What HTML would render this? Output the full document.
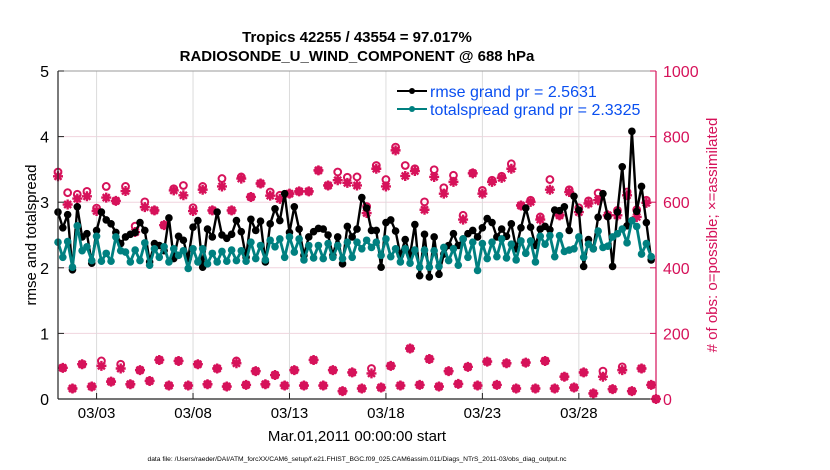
<!DOCTYPE html>
<html><head><meta charset="utf-8"><style>
body{margin:0;background:#fff;}
svg{display:block;font-family:"Liberation Sans",sans-serif;}
</style></head><body>
<svg id="chart" width="830" height="470" viewBox="0 0 830 470">
<text x="357" y="42" text-anchor="middle" font-size="15" font-weight="bold">Tropics 42255 / 43554 = 97.017%</text>
<text x="357" y="61" text-anchor="middle" font-size="15" font-weight="bold">RADIOSONDE_U_WIND_COMPONENT @ 688 hPa</text>
<g id="grid"></g>
<g id="obs"></g>
<g id="lines"></g>
<g id="axes"></g>
<g>
<line x1="397" y1="91" x2="427" y2="91" stroke="#000" stroke-width="2"/><circle cx="412" cy="91" r="3" fill="#000"/>
<text x="430" y="97" font-size="16" fill="#0a4ff0">rmse grand pr = 2.5631</text>
<line x1="397" y1="109" x2="427" y2="109" stroke="#008080" stroke-width="2"/><circle cx="412" cy="109" r="3" fill="#008080"/>
<text x="430" y="115" font-size="16" fill="#0a4ff0">totalspread grand pr = 2.3325</text>
</g>
<text transform="translate(36,235) rotate(-90)" text-anchor="middle" font-size="15">rmse and totalspread</text>
<text transform="translate(717,235) rotate(-90)" text-anchor="middle" font-size="15" fill="#d6125a"># of obs: o=possible; ×=assimilated</text>
<text x="357" y="441" text-anchor="middle" font-size="15">Mar.01,2011 00:00:00 start</text>
<text x="357" y="461" text-anchor="middle" font-size="6.7">data file: /Users/raeder/DAI/ATM_forcXX/CAM6_setup/f.e21.FHIST_BGC.f09_025.CAM6assim.011/Diags_NTrS_2011-03/obs_diag_output.nc</text>
</svg>
<script>
const rmse=[2.85,2.61,2.81,1.97,2.93,2.47,2.52,2.07,2.57,2.85,2.73,2.67,2.54,2.37,2.47,2.51,2.54,2.69,2.57,2.09,2.37,2.34,2.26,2.76,2.14,2.48,2.42,2.14,2.62,2.72,2.01,2.59,
2.47,2.85,2.50,2.45,2.51,2.72,2.55,2.16,2.74,2.57,2.71,2.09,2.67,2.90,2.72,3.13,2.54,2.93,2.59,2.19,2.47,2.55,2.60,2.59,2.50,2.19,2.47,2.06,2.63,2.47,
2.59,3.07,2.91,2.57,2.57,2.01,2.69,2.73,2.56,2.19,2.43,2.19,2.66,1.88,2.51,1.86,2.47,1.9,2.21,2.34,2.52,2.34,2.44,2.52,2.57,2.47,2.61,2.75,2.69,2.47,2.59,2.48,
2.67,2.29,2.61,2.91,2.62,2.34,2.59,2.63,2.58,2.88,2.87,2.93,2.57,3.09,2.88,2.02,2.43,2.29,2.77,3.13,2.78,2.02,2.85,3.54,2.64,4.08,2.86,3.24,2.69,2.12];
const spread=[2.39,2.16,2.40,2.01,2.64,2.26,2.32,2.11,2.48,2.10,2.22,2.10,2.47,2.26,2.24,2.09,2.27,2.11,2.38,2.04,2.29,2.16,2.32,2.09,2.29,2.19,2.26,1.99,2.29,2.09,2.29,2.06,
2.22,2.09,2.25,2.10,2.27,2.11,2.26,2.10,2.39,2.14,2.34,2.12,2.42,2.32,2.44,2.16,2.47,2.24,2.44,2.12,2.34,2.15,2.34,2.14,2.37,2.16,2.34,2.14,2.39,2.16,
2.39,2.29,2.42,2.31,2.39,2.19,2.44,2.17,2.29,2.09,2.29,2.07,2.27,2.01,2.27,2.01,2.26,2.02,2.31,2.11,2.29,2.04,2.44,2.16,2.39,1.96,2.37,2.14,2.39,2.17,2.44,2.15,
2.36,2.12,2.41,2.22,2.41,2.09,2.48,2.36,2.49,2.17,2.49,2.25,2.27,2.29,2.47,2.16,2.36,2.29,2.56,2.31,2.33,2.47,2.52,2.59,2.38,2.72,2.63,2.21,2.37,2.17];
const possible=[692,95,629,32,624,106,633,38,582,116,648,53,604,106,648,45,527,88,601,55,575,119,530,41,641,116,651,41,583,106,648,45,
575,93,672,38,575,116,677,43,616,85,657,45,631,73,621,41,626,88,633,41,633,119,697,41,651,88,692,24,676,81,
677,32,587,93,712,35,669,101,768,41,712,154,702,43,601,122,699,38,644,85,682,46,560,98,689,41,636,114,667,43,679,109,
717,32,590,111,606,32,555,116,669,32,560,68,638,35,583,81,604,17,628,85,560,30,575,98,631,24,577,93,606,43,0];
const assimilated=[679,95,593,32,611,106,618,38,573,101,614,53,604,93,634,45,509,88,585,55,575,119,530,41,636,116,621,41,573,106,638,45,
575,93,648,38,575,109,672,43,616,85,657,45,620,73,610,41,626,88,633,41,633,119,697,41,651,88,667,24,659,81,
651,32,567,78,702,35,648,101,758,41,680,154,695,43,577,122,677,38,626,85,662,46,547,98,688,41,626,114,662,43,674,109,
702,32,590,111,601,32,547,116,638,32,560,68,631,35,570,81,596,17,606,68,560,30,560,88,621,24,555,93,598,43,0];
const leftTicks=[0,1,2,3,4,5];
const rightTicks=[0,200,400,600,800,1000];
const dayTicks=[3,8,13,18,23,28];
const dayLabels=["03/03","03/08","03/13","03/18","03/23","03/28"];

const X0=58,X1=656,Y0=399,Y1=71,NDAYS=31,PTS_PER_DAY=4;
const xDay=d=>X0+(d-1)*(X1-X0)/NDAYS;
const xIdx=i=>X0+(i/PTS_PER_DAY)*(X1-X0)/NDAYS;
const yL=v=>Y0-v*(Y0-Y1)/5;
const yR=v=>Y0-v*(Y0-Y1)/1000;
const NS="http://www.w3.org/2000/svg";
function mk(tag,attrs,parent){const e=document.createElementNS(NS,tag);for(const k in attrs)e.setAttribute(k,attrs[k]);parent.appendChild(e);return e;}
const grid=document.getElementById('grid'),axes=document.getElementById('axes'),obs=document.getElementById('obs'),lines=document.getElementById('lines');
const PINK="#d6125a";
rightTicks.forEach(t=>{if(t===0||t===1000)return;
 const l=mk('line',{x1:X0,x2:X1,y1:yR(t),y2:yR(t),stroke:'#f0d4de','stroke-width':1},grid);
 
 });
dayTicks.forEach((d,k)=>{
 const l=mk('line',{x1:xDay(d),x2:xDay(d),y1:Y1,y2:Y0,stroke:'#dcdcdc','stroke-width':1},grid);
 
 
 const t=mk('line',{x1:xDay(d),x2:xDay(d),y1:Y0,y2:Y0-6,stroke:'#222','stroke-width':1},axes);
 
 
 const tx=mk('text',{x:xDay(d),y:418,'text-anchor':'middle','font-size':15},axes);
 tx.textContent=dayLabels[k];
 
 });
const fr=mk('path',{d:`M${X0},${Y1}H${X1}`,stroke:'#999','stroke-width':1,fill:'none'},axes);


const la=mk('line',{x1:X0,x2:X0,y1:Y1,y2:Y0,stroke:'#222','stroke-width':1.2},axes);


const ba=mk('line',{x1:X0,x2:X1,y1:Y0,y2:Y0,stroke:'#222','stroke-width':1.2},axes);


const ra=mk('line',{x1:X1,x2:X1,y1:Y1,y2:Y0,stroke:PINK,'stroke-width':1.2},axes);


leftTicks.forEach(t=>{
 const tk=mk('line',{x1:X0,x2:X0+6,y1:yL(t),y2:yL(t),stroke:'#222'},axes);
 
 
 const tx=mk('text',{x:X0-9,y:yL(t)+6,'text-anchor':'end','font-size':16},axes);
 tx.textContent=t;
 
 });
rightTicks.forEach(t=>{
 const tk=mk('line',{x1:X1,x2:X1-6,y1:yR(t),y2:yR(t),stroke:PINK},axes);
 
 
 const tx=mk('text',{x:X1+7,y:yR(t)+6,'font-size':16,fill:PINK},axes);
 tx.textContent=t;
 
 });
possible.forEach((v,i)=>{
 const c=mk('circle',{cx:xIdx(i),cy:yR(v),r:3.4,fill:'none',stroke:PINK,'stroke-width':2},obs);
 
 });
assimilated.forEach((v,i)=>{
 const x=xIdx(i),y=yR(v),r=5,d=3.5;
 const p=mk('path',{d:`M${x-r},${y}H${x+r}M${x},${y-r}V${y+r}M${x-d},${y-d}L${x+d},${y+d}M${x-d},${y+d}L${x+d},${y-d}`,stroke:PINK,'stroke-width':2.4},obs);
 
 });
function series(arr,color,name,w){
 const pts=arr.map((v,i)=>`${xIdx(i).toFixed(2)},${yL(v).toFixed(2)}`).join(' ');
 const pl=mk('polyline',{points:pts,fill:'none',stroke:color,'stroke-width':w,'stroke-linejoin':'round'},lines);
 
 
 arr.forEach((v,i)=>{
  const c=mk('circle',{cx:xIdx(i),cy:yL(v),r:3.8,fill:color},lines);
  
  });
}
series(rmse,'#000','rmse',2.4);
series(spread,'#008080','totalspread',2.8);
</script>
</body></html>
